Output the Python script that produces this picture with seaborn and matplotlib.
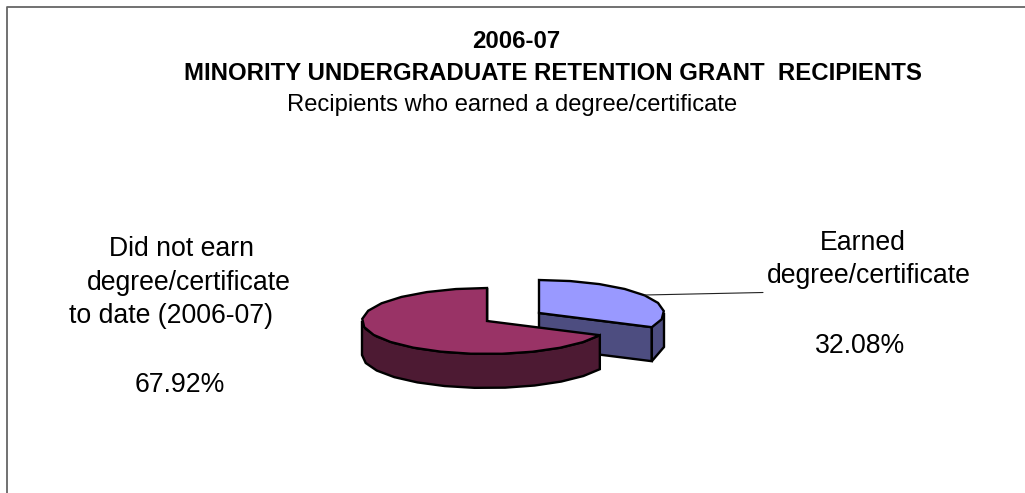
import numpy as np
import matplotlib
matplotlib.use("Agg")
import matplotlib.pyplot as plt
import seaborn as sns

year = "2006-07"
main_title = "MINORITY UNDERGRADUATE RETENTION GRANT  RECIPIENTS"
sub_title = "Recipients who earned a degree/certificate"
earned_lines = ["Earned", "degree/certificate", "32.08%"]
not_earned_lines = ["Did not earn", "degree/certificate", "to date (2006-07)", "67.92%"]
shares = [32.08, 67.92]
top_colors = ["#9999FF", "#993366"]
side_colors = ["#4D4D80", "#4D1A33"]

sns.set_theme(style="white")
plt.rcParams['font.family'] = ['Liberation Sans', 'DejaVu Sans']

RX = 125
RY = 33
DEPTH = 34
EDGE = 1.7


def rim(a0, a1, cx, cy):
    # coarse steps, the original pie edge is a rough polygon
    n = max(2, int(abs(a1 - a0) / 14) + 1)
    t = np.radians(np.linspace(a0, a1, n))
    return cx + RX * np.cos(t), cy - RY * np.sin(t)


def draw_slice(ax, start, end, cx, cy, top, side):
    # cut face from the centre to the end of the slice
    ex, ey = rim(end, end, cx, cy)
    ax.fill([cx, ex[0], ex[0], cx], [cy, ey[0], ey[0] + DEPTH, cy + DEPTH],
            fc=side, ec="black", lw=EDGE, zorder=2)
    # outer wall, only the part that faces the viewer
    hi = min(start, 0)
    lo = max(end, -180)
    wx, wy = rim(hi, lo, cx, cy)
    ax.fill(np.r_[wx, wx[::-1]], np.r_[wy, wy[::-1] + DEPTH],
            fc=side, ec="black", lw=EDGE, zorder=2)
    # top face
    tx, ty = rim(start, end, cx, cy)
    ax.fill(np.r_[cx, tx], np.r_[cy, ty], fc=top, ec="black", lw=EDGE, zorder=3)


fig, ax = plt.subplots(figsize=(10.25, 4.93), dpi=100)
fig.subplots_adjust(left=0, right=1, bottom=0, top=1)
ax.set_xlim(0, 1025)
ax.set_ylim(493, 0)
ax.axis("off")

# chart frame, only top and left are inside the picture
ax.plot([6.5, 6.5, 1025], [493, 6.5, 6.5], color="#666666", lw=1.3)

earned_deg = shares[0] / 100 * 360
draw_slice(ax, 90, 90 - earned_deg, 539, 313, top_colors[0], side_colors[0])
ax.plot([645, 763], [295, 292.5], color="#222222", lw=0.8, zorder=4)
draw_slice(ax, 90 - earned_deg, 90 - 360, 487, 321, top_colors[1], side_colors[1])

ax.text(516.5, 48, year, ha="center", va="baseline", fontsize=17.3, fontweight="bold", color="black")
ax.text(552.5, 80, main_title, ha="center", va="baseline", fontsize=17.3, fontweight="bold", color="black")
ax.text(512, 111, sub_title, ha="center", va="baseline", fontsize=17.1, color="black")

# label lines are not centred on each other in the original
for line, x, y in zip(earned_lines, [862.5, 869, 860], [250, 283, 353]):
    ax.text(x, y, line, ha="center", va="baseline", fontsize=19.2, color="black")
for line, x, y in zip(not_earned_lines, [181.5, 189, 171, 180], [256, 290, 323, 392]):
    ax.text(x, y, line, ha="center", va="baseline", fontsize=19.2, color="black")

fig.savefig("out.png", dpi=100)
